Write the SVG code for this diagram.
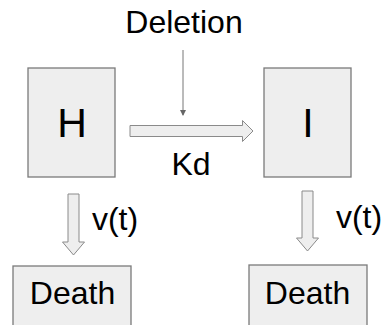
<svg xmlns="http://www.w3.org/2000/svg" width="383" height="325" viewBox="0 0 383 325">
<style>
.box{fill:#eeeeee;stroke:#7a7a7a;stroke-width:1.3}
.arr{fill:#eeeeee;stroke:#8a8a8a;stroke-width:1}
.t{font-family:"Liberation Sans",Arial,sans-serif;fill:#000;text-anchor:middle}
.s{font-size:32px}
.b{font-size:41px}
</style>
<defs>
<marker id="ah" markerWidth="6" markerHeight="6" refX="5" refY="3" orient="auto" markerUnits="userSpaceOnUse">
<path d="M0,0 L6,3 L0,6 Z" fill="#666"/>
</marker>
</defs>
<rect width="383" height="325" fill="#fff"/>
<g id="connectors">
<line x1="183" y1="50" x2="183" y2="115" stroke="#777" stroke-width="1" marker-end="url(#ah)"/>
<path class="arr" d="M130,125.5 H242.5 V120.5 L253,131 L242.5,141.5 V136.5 H130 Z"/>
<path class="arr" d="M68,194 V242 H62.5 L73.5,255 L84.5,242 H79 V194 Z"/>
<path class="arr" d="M302,191 V238 H296.5 L307.5,251 L318.5,238 H313 V191 Z"/>
</g>
<g id="deletion"><text class="t s" x="184" y="33">Deletion</text></g>
<g id="kd"><text class="t s" x="191" y="175">Kd</text></g>
<g id="vt1"><text class="t s" x="115" y="230">v(t)</text></g>
<g id="vt2"><text class="t s" x="359" y="228">v(t)</text></g>
<g id="H">
<rect class="box" x="28" y="68" width="87" height="109"/>
<text class="t b" x="72" y="137">H</text>
</g>
<g id="I">
<rect class="box" x="264" y="68" width="87" height="109"/>
<text class="t b" x="308" y="137">I</text>
</g>
<g id="death1">
<rect class="box" x="13" y="266" width="118" height="70"/>
<text class="t s" x="72.5" y="304">Death</text>
</g>
<g id="death2">
<rect class="box" x="249" y="265" width="118" height="70"/>
<text class="t s" x="307.5" y="304">Death</text>
</g>
</svg>
